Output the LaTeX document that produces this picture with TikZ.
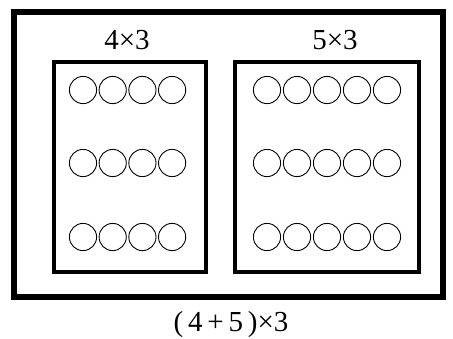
\documentclass[tikz,border=0pt]{standalone}
\usepackage{fontspec}
\setmainfont{Liberation Serif}
\usetikzlibrary{positioning}

\begin{document}
\begin{tikzpicture}[
  x=0.5pt, y=-0.5pt,
  every node/.style={font=\rmfamily\fontsize{14.5}{16}\selectfont, inner sep=0pt},
  frame/.style={draw, line width=#1, minimum width=0pt, minimum height=0pt},
  dot/.style={draw, circle, line width=0.45pt, minimum size=13.6pt}
]
\useasboundingbox (0,0) rectangle (453,338);

\node[frame=3pt, minimum width=214.5pt, minimum height=142.5pt] (whole) at (228.5,154) {};
\node[frame=2.3pt, minimum width=76pt, minimum height=105pt]    (left)  at (130,167) {};
\node[frame=2.3pt, minimum width=92pt, minimum height=105pt]    (right) at (327,167) {};

\node (lefttxt)  at (127,40)  {4×3};
\node (righttxt) at (335,40)  {5×3};
\node (sumtxt)   at (231,325) {(\,4\,+\,5\,)×3};

% circles of the left group
\foreach \row/\y in {1/90, 2/163, 3/237}
  \foreach \col in {0,...,3}
    \node[dot] (l\row\col) at (83+29.7*\col,\y) {};

% circles of the right group
\foreach \row/\y in {1/90, 2/163, 3/237}
  \foreach \col in {0,...,4}
    \node[dot] (r\row\col) at (267+30*\col,\y) {};
\end{tikzpicture}
\end{document}
